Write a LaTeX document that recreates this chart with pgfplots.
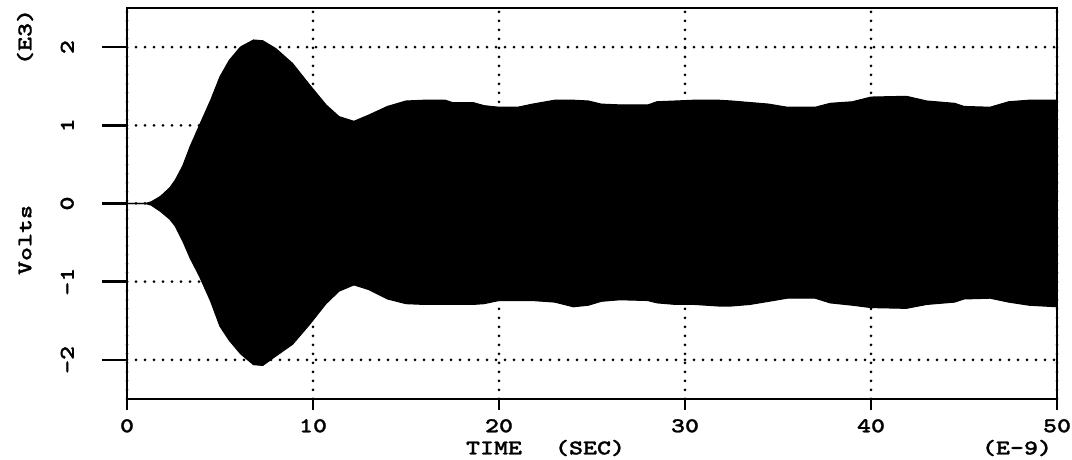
\documentclass[border=0pt]{standalone}
\usepackage{fontspec}
\usepackage{pgfplots}
\pgfplotsset{compat=1.18}
\usepgfplotslibrary{fillbetween}
\usepackage{pgfplotstable}

\newfontfamily\labfont{lmmonolt10-bold.otf}[FakeStretch=1.27, FakeBold=1.2]

% Envelope of the oscillating voltage: time (ns), upper and lower peak (kV)
\pgfplotstableread{
t     hi     lo
0.0   0.00   0.00
1.0   0.00   0.00
1.3   0.02  -0.02
1.8   0.09  -0.10
2.3   0.20  -0.20
2.6   0.30  -0.29
3.0   0.48  -0.48
3.4   0.73  -0.70
3.9   1.00  -0.93
4.5   1.32  -1.25
5.0   1.62  -1.57
5.5   1.83  -1.75
6.1   2.00  -1.92
6.8   2.09  -2.06
7.3   2.08  -2.07
8.0   1.98  -1.95
8.9   1.79  -1.80
9.8   1.52  -1.55
10.7  1.26  -1.28
11.4  1.11  -1.12
12.2  1.05  -1.04
13.0  1.13  -1.10
14.0  1.24  -1.22
15.0  1.31  -1.28
16.0  1.32  -1.29
17.1  1.32  -1.29
17.5  1.29  -1.29
18.6  1.29  -1.29
19.2  1.25  -1.28
20.0  1.23  -1.24
21.0  1.23  -1.24
21.8  1.27  -1.24
23.0  1.32  -1.26
24.0  1.32  -1.32
24.8  1.31  -1.30
25.5  1.27  -1.25
26.5  1.26  -1.23
28.0  1.26  -1.24
28.5  1.30  -1.27
29.5  1.31  -1.29
30.5  1.32  -1.29
31.8  1.32  -1.31
32.5  1.31  -1.31
33.5  1.29  -1.29
34.5  1.27  -1.25
35.5  1.23  -1.21
37.0  1.23  -1.21
37.8  1.28  -1.27
39.0  1.30  -1.30
40.0  1.36  -1.33
41.9  1.37  -1.34
43.0  1.31  -1.29
44.5  1.28  -1.26
45.0  1.24  -1.22
46.4  1.23  -1.21
47.4  1.30  -1.26
48.5  1.32  -1.30
50.0  1.32  -1.32
}\envelope

\newcommand\lab{\fontsize{21}{25}\selectfont\labfont}

\begin{document}
\begin{tikzpicture}
% page frame, 1072 x 460
\path (0pt,0pt) rectangle (1072pt,460pt);
\begin{axis}[
  at={(127pt,61pt)}, anchor=south west,
  scale only axis, width=930pt, height=391pt,
  xmin=0, xmax=50, ymin=-2.5, ymax=2.5,
  xtick={0,10,20,30,40,50}, ytick={-2,-1,0,1,2},
  xticklabels={0,10,20,30,40,50},
  yticklabels={{-2},{-1},{0},{1},{2}},
  xtick pos=bottom, ytick pos=left,
  grid=major,
  grid style={black, line width=3pt, line cap=round, dash pattern=on 0pt off 9pt},
  axis line style={line width=1.3pt},
  tick align=outside, major tick length=25pt,
  xtick style={draw=none},
  ytick style={line width=2.6pt, black},
  ticklabel style={font=\lab, inner sep=0pt},
  xticklabel style={anchor=north, yshift=5pt},
  yticklabel style={rotate=90, anchor=south, yshift=28pt},
]
\addplot[name path=hi, black, line width=1.2pt] table[x=t, y=hi] {\envelope};
\addplot[name path=lo, black, line width=1.2pt] table[x=t, y=lo] {\envelope};
\addplot[black] fill between[of=hi and lo];
\end{axis}
% heavier left and bottom axis lines, with short outward time ticks
\draw[line width=2.8pt] (127pt,452pt) -- (127pt,61pt) -- (1057pt,61pt);
\foreach \i in {0,...,5}
  \draw[line width=2.4pt] (127pt+186pt*\i,61pt) -- ++(0pt,-11pt);
\node[font=\lab, rotate=90] at (25pt,220pt) {Volts};
\node[font=\lab, rotate=90] at (25pt,423pt) {(E3)};
\node[font=\lab] at (494pt,12pt) {TIME};
\node[font=\lab] at (590pt,12pt) {(SEC)};
\node[font=\lab] at (1017pt,12pt) {(E-9)};
\end{tikzpicture}
\end{document}
